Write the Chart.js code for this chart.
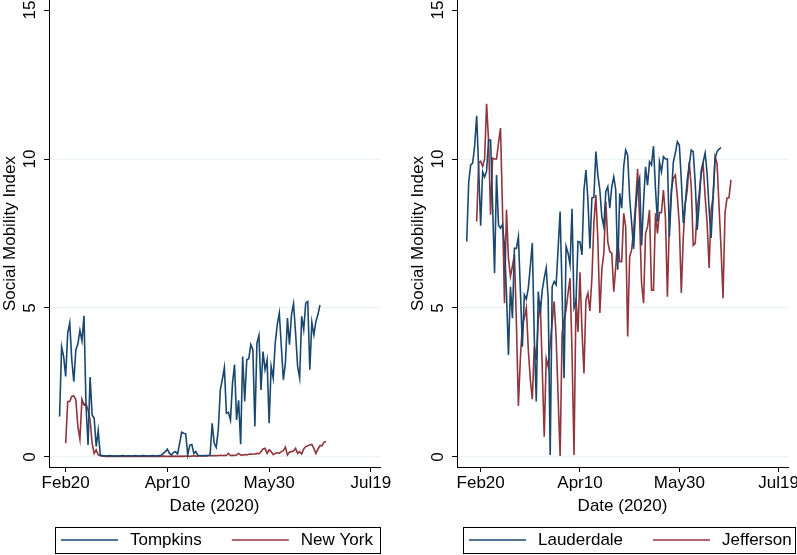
<!DOCTYPE html>
<html>
<head>
<meta charset="utf-8">
<title>Social Mobility Index</title>
<script src="https://cdn.jsdelivr.net/npm/chart.js@4.4.1/dist/chart.umd.min.js"></script>
<style>
  body { margin: 0; width: 797px; height: 555px; overflow: hidden; background: #fff; position: relative; }
  .panel { position: absolute; top: 0; width: 400px; height: 555px; }
</style>
</head>
<body>
<div class="panel" style="left:0"><canvas id="leftPanel"></canvas></div>
<div class="panel" style="left:408px"><canvas id="rightPanel"></canvas></div>
<script>
// x axis is days counted from Feb 20, 2020
const baseDate = '2020-02-20';
const tickDays = [0, 50, 100, 150];
const tickLabels = ['Feb20', 'Apr10', 'May30', 'Jul19'];
const yTicks = [0, 5, 10, 15];

// daily Social Mobility Index, first date of each series
const tompkinsStart = '2020-02-17';
const tompkins = [
  1.36, 3.7, 3.37, 2.7, 4.16, 4.5, 3.26, 2.53, 3.6, 3.8, 4.25, 3.9,
  4.74, 1.7, 0.4, 2.68, 1.41, 1.3, 0.35, 0.89, 0.07,
  0.05, 0.04, 0.03, 0.04, 0.05, 0.03, 0.04, 0.03, 0.03, 0.04, 0.05, 0.04, 0.03, 0.04, 0.04,
  0.03, 0.05, 0.04, 0.03, 0.04, 0.05, 0.04, 0.03, 0.04, 0.04, 0.05, 0.03, 0.04, 0.05, 0.06,
  0.12, 0.18, 0.26, 0.12, 0.07, 0.15, 0.18, 0.1, 0.45, 0.83, 0.8, 0.77, 0.07, 0.4, 0.42,
  0.12, 0.18, 0.05, 0.05, 0.04, 0.05, 0.05, 0.05, 0.07,
  1.13, 0.46, 0.32, 0.9, 2.25, 2.6, 3.0, 1.47, 1.5, 1.24,
  2.48, 3.1, 1.24, 1.9, 0.43, 3.37, 1.86, 3.26, 3.3, 3.77,
  3.6, 1.02, 3.82, 4.08, 2.25, 3.54, 2.93, 3.26, 1.13, 3.04,
  2.65, 3.82, 4.44, 4.83, 3.71, 2.59, 3.15, 4.66, 3.77, 4.78,
  5.15, 4.16, 3.04, 2.65, 4.72, 4.27, 5.17, 5.22, 2.93, 4.52,
  4.1, 4.55, 4.78, 5.1
];

const newYorkStart = '2020-02-20';
const newYork = [
  0.46, 1.86, 1.86, 2.03, 2.05, 1.92, 1.02, 0.6, 1.94, 1.75, 1.78, 1.58, 1.24, 0.46, 0.12, 0.24, 0.07,
  0.04, 0.03, 0.03, 0.02, 0.03, 0.02, 0.02, 0.03, 0.02, 0.02,
  0.02, 0.03, 0.02, 0.02, 0.02, 0.03, 0.02, 0.02, 0.02, 0.02,
  0.03, 0.02, 0.02, 0.02, 0.03, 0.02, 0.02, 0.02, 0.03, 0.02,
  0.02, 0.03, 0.02, 0.02, 0.02, 0.03, 0.02, 0.03, 0.02, 0.02,
  0.03, 0.02, 0.03, 0.03, 0.02, 0.03, 0.04, 0.03, 0.03, 0.04,
  0.03, 0.04, 0.03, 0.04, 0.05, 0.04, 0.05, 0.04, 0.05, 0.06,
  0.05, 0.06, 0.05,
  0.12, 0.05, 0.06, 0.05, 0.07, 0.12, 0.07, 0.06, 0.08, 0.07,
  0.09, 0.1, 0.09, 0.1, 0.12, 0.11, 0.18, 0.27, 0.29, 0.12,
  0.24, 0.18, 0.08, 0.12, 0.15, 0.12, 0.18, 0.21, 0.33, 0.07,
  0.16, 0.18, 0.2, 0.29, 0.12, 0.18, 0.1, 0.27, 0.35, 0.38,
  0.4, 0.42, 0.29, 0.12, 0.26, 0.38, 0.38, 0.5, 0.52
];

const lauderdaleStart = '2020-02-13';
const lauderdale = [
  7.23, 9.24, 9.8, 9.86, 10.45, 11.45, 9.7, 7.76, 9.57, 9.4, 9.6, 10.64, 10.64, 8.5,
  6.17, 9.46, 7.78, 7.68, 7.8, 7.1, 5.5, 3.42, 5.71, 4.66,
  7.0, 7.0, 7.39, 5.6, 3.7, 5.44, 5.3, 5.67, 6.4, 7.18,
  4.0, 1.86, 5.55, 4.83, 5.6, 6.0, 6.34, 5.3, 0.07, 5.72,
  5.89, 5.78, 7.0, 8.24, 5.5, 2.64, 7.07, 6.84, 6.45, 8.33,
  5.0, 5.22, 7.23, 7.22, 6.78, 8.96, 9.63, 8.62, 7.0, 8.69,
  8.72, 10.25, 9.46, 8.96, 8.06, 7.73, 8.9, 9.07, 8.35, 9.07,
  9.4, 8.96, 6.28, 8.85, 8.35, 9.74, 10.3, 10.13, 8.7, 7.85,
  6.98, 8.3, 9.07, 9.35, 7.1, 8.55, 9.74, 9.12, 9.91, 9.8,
  10.43, 9.0, 7.9, 9.91, 9.57, 10.08, 10.0, 10.0, 7.39, 8.8,
  9.9, 10.2, 10.58, 10.47, 9.3, 7.85, 8.5, 9.3, 9.8, 10.3,
  10.25, 9.2, 7.62, 8.5, 9.6, 9.9, 10.2, 9.5, 8.3, 7.35,
  8.7, 10.02, 10.25, 10.33, 10.38
];

const jeffersonStart = '2020-02-18';
const jefferson = [
  7.9, 9.87, 9.92, 9.75, 10.0, 11.85, 10.6, 8.13, 10.03, 10.0, 10.0, 10.54, 11.04,
  8.3, 5.16, 8.3, 6.67, 6.06, 6.4, 6.79, 4.5, 1.71, 3.31,
  4.43, 4.66, 5.0, 3.6, 2.6, 1.94, 3.7, 3.26, 4.6, 5.22,
  3.0, 0.68, 3.31, 3.03, 3.8, 4.5, 5.22, 4.0, 2.0, 0.03,
  4.15, 4.6, 4.94, 5.5, 6.0, 3.5, 0.07, 5.33, 4.2, 6.2,
  4.26, 2.8, 5.27, 5.5, 4.9, 6.0, 7.85, 8.79, 7.28, 4.83,
  6.28, 6.84, 8.57, 7.22, 6.89, 6.84, 5.55, 6.39, 7.28, 6.55,
  6.55, 8.18, 7.73, 4.04, 6.72, 6.95, 7.62, 8.51, 9.66, 8.0,
  5.83, 5.16, 7.5, 7.73, 8.29, 5.6, 5.6, 8.18, 7.5, 8.2,
  8.2, 8.96, 8.06, 5.38, 7.84, 8.96, 9.35, 9.46, 8.73, 7.8,
  5.5, 7.39, 8.51, 8.96, 9.9, 9.07, 7.1, 7.17, 8.29, 8.85,
  9.52, 9.8, 8.73, 7.84, 6.34, 8.29, 8.73, 10.08, 9.85, 8.4,
  7.0, 5.33, 8.19, 8.69, 8.7, 9.3
];

const navy = '#1a476f';
const maroon = '#90353b';
const fontFamily = '"Liberation Sans", Arial, Helvetica, sans-serif';
const font = { family: fontFamily, size: 17 };

function dayOffset(dateStr) {
  return Math.round((Date.parse(dateStr) - Date.parse(baseDate)) / 86400000);
}

function toPoints(startDate, values) {
  const start = dayOffset(startDate);
  return values.map((v, i) => ({ x: start + i, y: v }));
}

// y tick labels turned on their side, as in the original
const verticalYLabels = {
  id: 'verticalYLabels',
  afterDraw(chart) {
    const { ctx, chartArea } = chart;
    const scale = chart.scales.y;
    ctx.save();
    ctx.font = '17px ' + fontFamily;
    ctx.fillStyle = '#000';
    ctx.textAlign = 'center';
    ctx.textBaseline = 'middle';
    scale.ticks.forEach(t => {
      ctx.save();
      ctx.translate(chartArea.left - 19, scale.getPixelForValue(t.value));
      ctx.rotate(-Math.PI / 2);
      ctx.fillText(String(t.value), 0, 0);
      ctx.restore();
    });
    ctx.restore();
  }
};

// legend in a framed box under the plot
const boxedLegend = {
  id: 'boxedLegend',
  afterDraw(chart, args, opts) {
    const { ctx, chartArea } = chart;
    const midY = chart.height - 15;
    const left = Math.round(chartArea.left + 6);
    let x = left + 6;
    ctx.save();
    ctx.font = '17px ' + fontFamily;
    ctx.textBaseline = 'middle';
    ctx.fillStyle = '#000';
    chart.data.datasets.forEach((ds, i) => {
      if (i > 0) x += 30;
      ctx.strokeStyle = ds.borderColor;
      ctx.lineWidth = 1.6;
      ctx.beginPath();
      ctx.moveTo(x, midY);
      ctx.lineTo(x + 57, midY);
      ctx.stroke();
      x += 57 + 12;
      ctx.fillText(ds.label, x, midY);
      x += ctx.measureText(ds.label).width;
    });
    const right = opts.extendRight != null ? chartArea.right + opts.extendRight : x + 7;
    ctx.strokeStyle = '#000';
    ctx.lineWidth = 1;
    ctx.strokeRect(left + 0.5, midY - 13 + 0.5, Math.round(right - left), 26);
    ctx.restore();
  }
};

function makePanel(canvasId, series, xMin, xMax, legendOpts) {
  const ctx = document.getElementById(canvasId);
  return new Chart(ctx, {
    type: 'line',
    data: {
      datasets: series.map(s => ({
        label: s.label,
        data: s.points,
        borderColor: s.color,
        backgroundColor: s.color,
        borderWidth: 1.6,
        pointRadius: 0,
        tension: 0,
        fill: false
      }))
    },
    options: {
      responsive: true,
      maintainAspectRatio: false,
      animation: false,
      layout: { padding: { left: 0, right: 20, top: 0, bottom: 38 } },
      plugins: {
        legend: { display: false },
        tooltip: { enabled: false },
        boxedLegend: legendOpts
      },
      scales: {
        x: {
          type: 'linear',
          min: xMin,
          max: xMax,
          afterBuildTicks: s => { s.ticks = tickDays.map(v => ({ value: v })); },
          afterFit: s => { s.height = 50; },
          ticks: {
            font: font,
            color: '#000',
            padding: 1,
            maxRotation: 0,
            autoSkip: false,
            callback: v => tickLabels[tickDays.indexOf(v)]
          },
          grid: { drawOnChartArea: false, tickLength: 5, tickColor: '#000' },
          border: { color: '#000', width: 1 },
          title: { display: true, text: 'Date (2020)', font: font, color: '#000', padding: { top: 0, bottom: 0 } }
        },
        y: {
          min: -0.336,
          max: 15.336,
          afterBuildTicks: s => { s.ticks = yTicks.map(v => ({ value: v })); },
          afterFit: s => { s.width = 49; },
          ticks: { display: false },
          grid: {
            color: c => (c.tick && c.tick.value === 15) ? 'rgba(0,0,0,0)' : '#eaf2f3',
            tickColor: '#000',
            tickLength: 5,
            lineWidth: 1
          },
          border: { color: '#000', width: 1 },
          title: { display: true, text: 'Social Mobility Index', font: font, color: '#000', padding: { top: 0, bottom: 0 } }
        }
      }
    },
    plugins: [verticalYLabels, boxedLegend]
  });
}

makePanel('leftPanel', [
  { label: 'Tompkins', color: navy, points: toPoints(tompkinsStart, tompkins) },
  { label: 'New York', color: maroon, points: toPoints(newYorkStart, newYork) }
], -8.2, 154.5, {});

makePanel('rightPanel', [
  { label: 'Lauderdale', color: navy, points: toPoints(lauderdaleStart, lauderdale) },
  { label: 'Jefferson', color: maroon, points: toPoints(jeffersonStart, jefferson) }
], -11.9, 154.7, { extendRight: 7 });
</script>
</body>
</html>
